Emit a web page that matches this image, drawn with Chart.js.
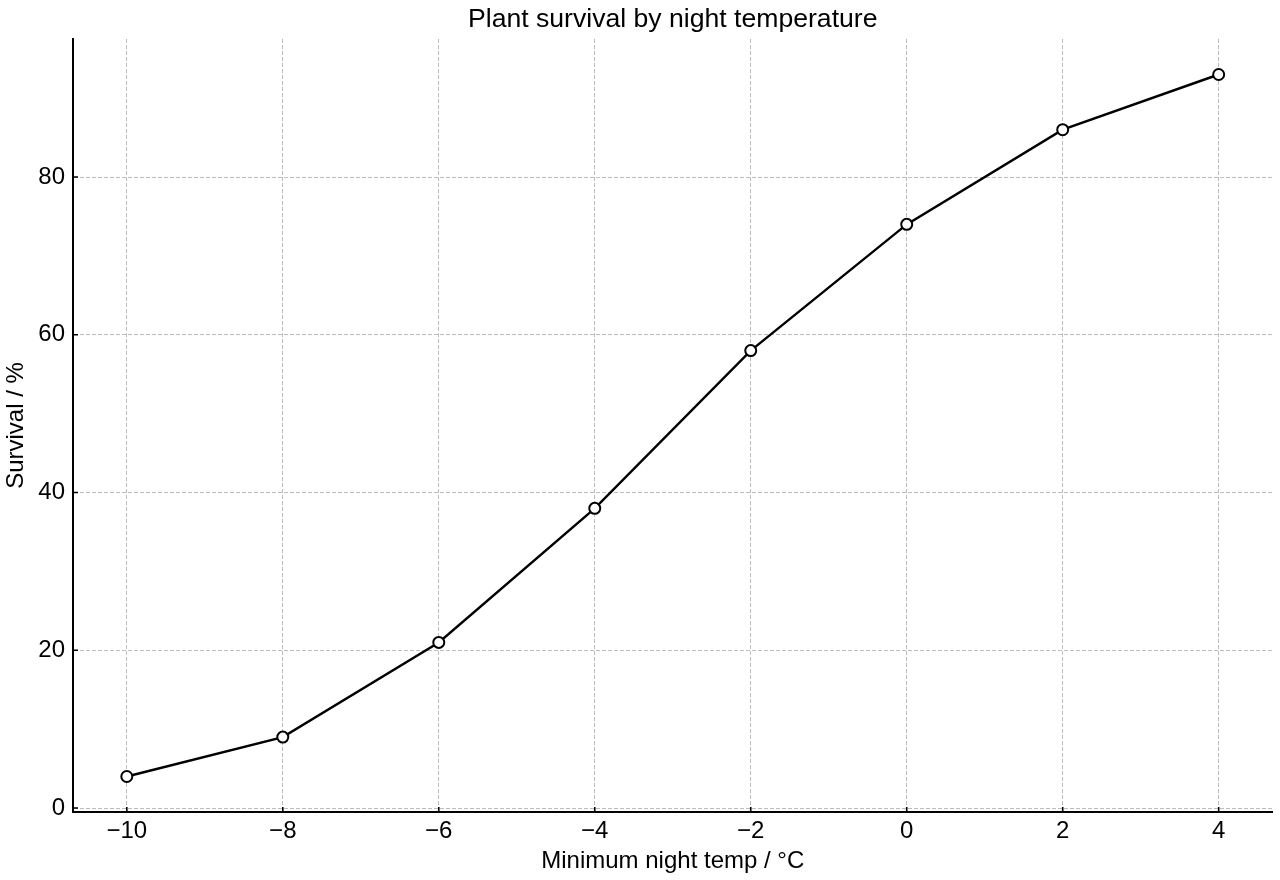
<!DOCTYPE html>
<html>
<head>
<meta charset="utf-8">
<script src="https://cdn.jsdelivr.net/npm/chart.js@4"></script>
<style>
  html, body { margin: 0; padding: 0; background: #fff; }
  #wrap { width: 1280px; height: 880px; }
</style>
</head>
<body>
<div id="wrap"><canvas id="chart" width="1280" height="880"></canvas></div>
<script>
const temps = [-10, -8, -6, -4, -2, 0, 2, 4];
const survival = [4, 9, 21, 38, 58, 74, 86, 93];
const xTicks = [-10, -8, -6, -4, -2, 0, 2, 4];
const yTicks = [0, 20, 40, 60, 80];
const chartTitle = 'Plant survival by night temperature';

const fontFamily = '"Liberation Sans", Arial, Helvetica, sans-serif';

// matplotlib-style inward tick marks + title centred over the plot area
const axesDecor = {
    id: 'axesDecor',
    afterDraw(chart) {
        const { ctx, chartArea, scales } = chart;
        ctx.save();
        ctx.strokeStyle = '#000';
        ctx.lineWidth = 1.6;
        ctx.beginPath();
        xTicks.forEach(v => {
            const px = scales.x.getPixelForValue(v);
            ctx.moveTo(px, chartArea.bottom);
            ctx.lineTo(px, chartArea.bottom - 5);
        });
        yTicks.forEach(v => {
            const py = scales.y.getPixelForValue(v);
            ctx.moveTo(chartArea.left, py);
            ctx.lineTo(chartArea.left + 5, py);
        });
        ctx.stroke();

        ctx.fillStyle = '#000';
        ctx.font = '26.6px ' + fontFamily;
        ctx.textAlign = 'center';
        ctx.textBaseline = 'middle';
        ctx.fillText(chartTitle, (chartArea.left + chartArea.right) / 2, 19.5);
        ctx.restore();
    }
};

const ctx = document.getElementById('chart').getContext('2d');

new Chart(ctx, {
    type: 'line',
    data: {
        datasets: [{
            data: temps.map((t, i) => ({ x: t, y: survival[i] })),
            borderColor: '#000',
            borderWidth: 2.4,
            pointBackgroundColor: '#fff',
            pointBorderColor: '#000',
            pointBorderWidth: 2,
            pointRadius: 5.5,
            tension: 0,
        }]
    },
    options: {
        responsive: false,
        animation: false,
        layout: { padding: { left: 0, right: 7, top: 39, bottom: 0 } },
        plugins: {
            legend: { display: false },
            tooltip: { enabled: false },
            title: { display: false }
        },
        scales: {
            x: {
                type: 'linear',
                min: -10.69,
                max: 4.69,
                afterBuildTicks: s => { s.ticks = xTicks.map(v => ({ value: v })); },
                afterFit: s => { s.height = 68; },
                ticks: {
                    color: '#000',
                    padding: 5,
                    font: { family: fontFamily, size: 24 },
                    callback: v => String(v).replace('-', '\u2212')
                },
                grid: { color: '#bdbdbd', lineWidth: 1, drawTicks: false },
                border: { display: true, color: '#000', width: 2, dash: [4, 2] },
                title: {
                    display: true,
                    text: 'Minimum night temp / °C',
                    color: '#000',
                    font: { family: fontFamily, size: 24 },
                    padding: { top: 0, bottom: 4 }
                }
            },
            y: {
                type: 'linear',
                min: -0.5,
                max: 97.5,
                afterBuildTicks: s => { s.ticks = yTicks.map(v => ({ value: v })); },
                afterFit: s => { s.width = 73; },
                ticks: {
                    color: '#000',
                    padding: 8,
                    font: { family: fontFamily, size: 24 }
                },
                grid: { color: '#bdbdbd', lineWidth: 1, drawTicks: false },
                border: { display: true, color: '#000', width: 2, dash: [4, 2] },
                title: {
                    display: true,
                    text: 'Survival / %',
                    color: '#000',
                    font: { family: fontFamily, size: 24 },
                    padding: { top: 2, bottom: 0 }
                }
            }
        }
    },
    plugins: [axesDecor]
});
</script>
</body>
</html>
